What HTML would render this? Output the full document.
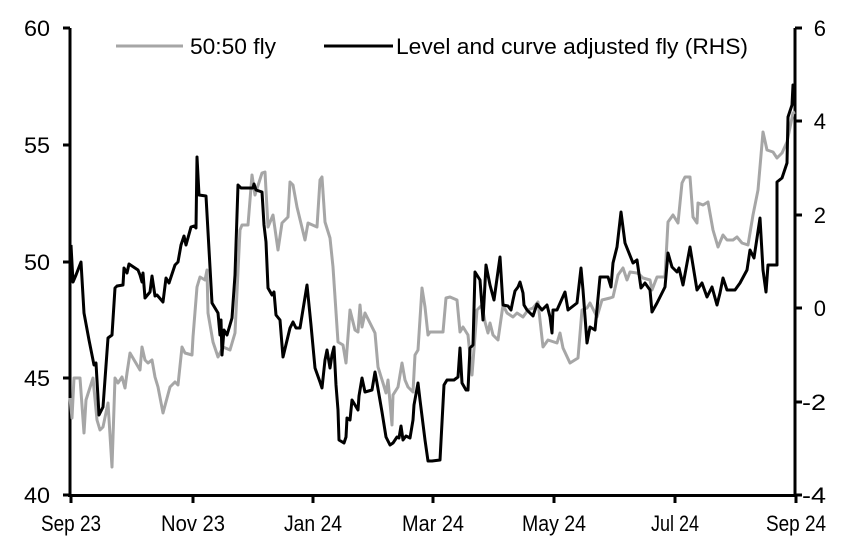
<!DOCTYPE html>
<html><head><meta charset="utf-8"><style>
html,body{margin:0;padding:0;background:#fff;}
svg{display:block;}
text{font-family:"Liberation Sans",Arial,sans-serif;font-size:22px;fill:#000;}
</style></head><body>
<svg width="852" height="551" viewBox="0 0 852 551" xmlns="http://www.w3.org/2000/svg">
<g stroke="#000" stroke-width="3" fill="none">
<line x1="70" y1="28" x2="70" y2="496"/>
<line x1="795" y1="28" x2="795" y2="496"/>
<line x1="68" y1="495.5" x2="797" y2="495.5"/>
<line x1="63" y1="28" x2="70" y2="28"/><line x1="63" y1="145" x2="70" y2="145"/><line x1="63" y1="262" x2="70" y2="262"/><line x1="63" y1="378" x2="70" y2="378"/><line x1="63" y1="495" x2="70" y2="495"/>
<line x1="795" y1="28" x2="802" y2="28"/><line x1="795" y1="121" x2="802" y2="121"/><line x1="795" y1="215" x2="802" y2="215"/><line x1="795" y1="308" x2="802" y2="308"/><line x1="795" y1="402" x2="802" y2="402"/><line x1="795" y1="495" x2="802" y2="495"/>
<line x1="71" y1="495" x2="71" y2="503"/><line x1="193" y1="495" x2="193" y2="503"/><line x1="313" y1="495" x2="313" y2="503"/><line x1="433" y1="495" x2="433" y2="503"/><line x1="554" y1="495" x2="554" y2="503"/><line x1="675" y1="495" x2="675" y2="503"/><line x1="796" y1="495" x2="796" y2="503"/>
</g>
<g text-anchor="end">
<text x="50" y="36" textLength="26" lengthAdjust="spacingAndGlyphs">60</text>
<text x="50" y="153" textLength="26" lengthAdjust="spacingAndGlyphs">55</text>
<text x="50" y="270" textLength="26" lengthAdjust="spacingAndGlyphs">50</text>
<text x="50" y="386" textLength="26" lengthAdjust="spacingAndGlyphs">45</text>
<text x="50" y="503" textLength="26" lengthAdjust="spacingAndGlyphs">40</text>
</g>
<g text-anchor="end">
<text x="826" y="36">6</text>
<text x="826" y="129">4</text>
<text x="826" y="223">2</text>
<text x="826" y="316">0</text>
<text x="826" y="410" textLength="24" lengthAdjust="spacingAndGlyphs">-2</text>
<text x="826" y="503" textLength="24" lengthAdjust="spacingAndGlyphs">-4</text>
</g>
<g text-anchor="middle">
<text x="71" y="531" textLength="60" lengthAdjust="spacingAndGlyphs">Sep 23</text>
<text x="193" y="531" textLength="64" lengthAdjust="spacingAndGlyphs">Nov 23</text>
<text x="313" y="531" textLength="58" lengthAdjust="spacingAndGlyphs">Jan 24</text>
<text x="433" y="531" textLength="62" lengthAdjust="spacingAndGlyphs">Mar 24</text>
<text x="554" y="531" textLength="64" lengthAdjust="spacingAndGlyphs">May 24</text>
<text x="675" y="531" textLength="48" lengthAdjust="spacingAndGlyphs">Jul 24</text>
<text x="796" y="531" textLength="60" lengthAdjust="spacingAndGlyphs">Sep 24</text>
</g>
<line x1="116" y1="46" x2="183" y2="46" stroke="#a6a6a6" stroke-width="3"/>
<text x="190" y="54" textLength="86" lengthAdjust="spacingAndGlyphs">50:50 fly</text>
<line x1="324" y1="46" x2="393" y2="46" stroke="#000" stroke-width="3"/>
<text x="396" y="54" textLength="352" lengthAdjust="spacingAndGlyphs">Level and curve adjusted fly (RHS)</text>
<polyline fill="none" stroke="#a6a6a6" stroke-width="3" stroke-linejoin="round" points="70,398 72,418 74,378 80,378 84,433 86,400 93,378 97,420 100,430 103,427 108,403 112,467 115,378 118,383 122,377 125,388 127,373 130,353 140,370 142,347 145,360 148,363 152,360 155,377 158,387 163,413 170,387 175,382 178,385 182,347 185,353 192,355 193,337 197,287 200,277 205,280 207,270 208,313 213,342 218,357 223,347 230,350 235,333 240,230 242,225 248,225 252,175 255,195 262,173 265,172 268,227 273,215 278,250 282,223 288,217 290,182 293,185 297,207 305,240 308,223 317,227 320,180 322,177 325,222 330,238 333,267 338,342 343,345 346,363 350,310 355,330 358,332 360,305 362,327 365,313 370,323 375,333 378,367 383,383 386,393 388,380 392,425 393,395 398,387 402,363 405,380 408,387 413,392 415,355 418,350 422,288 425,307 428,335 430,332 443,332 446,298 450,297 457,300 460,332 463,327 468,335 472,375 477,310 482,305 485,322 488,333 490,323 493,335 498,340 503,305 507,313 513,317 517,313 523,317 528,310 533,308 538,302 543,347 548,340 557,343 560,333 563,348 570,363 578,358 582,310 587,308 590,303 597,317 602,300 610,298 613,297 618,275 623,268 627,280 630,272 637,273 640,275 643,278 650,280 652,290 657,277 665,277 668,222 673,215 678,223 682,183 685,177 690,177 693,217 697,223 698,203 703,205 708,202 713,230 718,247 723,235 727,240 733,240 737,237 742,243 748,245 753,215 758,190 763,132 767,150 773,152 777,158 782,153 787,142 793,113 795,112"/>
<polyline fill="none" stroke="#000" stroke-width="3" stroke-linejoin="round" points="71,245 73,282 76,275 81,262 84,313 89,340 94,365 96,363 99,415 103,407 108,338 112,335 115,288 117,286 123,285 124,268 127,273 129,264 138,270 140,275 142,282 143,273 145,298 150,292 152,276 155,296 157,295 163,302 166,278 169,283 175,265 178,262 181,245 184,236 186,245 191,227 194,226 196,228 197,157 199,195 206,196 212,303 218,313 220,335 221,320 222,355 224,330 227,335 232,318 235,275 238,185 241,188 253,188 254,184 256,190 262,192 264,225 266,242 268,288 272,295 274,292 276,315 280,320 282,345 283,357 290,328 293,322 296,328 300,328 307,285 311,325 315,368 320,382 322,388 325,360 327,350 330,368 332,355 334,347 336,385 338,410 339,440 344,443 346,437 347,418 350,420 352,400 358,410 359,396 362,378 365,392 372,390 375,372 377,383 382,412 386,437 390,445 393,443 397,437 399,438 401,426 403,440 406,436 410,438 413,420 414,405 418,383 420,400 425,440 428,461 432,461 440,460 444,385 447,380 454,380 458,377 460,348 462,383 466,390 468,390 470,348 473,345 475,272 480,280 483,320 486,265 490,285 494,300 500,257 503,305 508,306 511,310 513,300 515,291 518,287 520,282 523,293 524,305 527,310 533,316 537,304 542,310 547,305 550,317 552,333 553,310 557,310 565,292 568,310 577,303 581,268 583,290 587,343 590,327 595,330 600,277 608,277 611,287 613,263 617,247 621,212 625,243 633,263 637,260 641,288 645,283 650,290 652,312 657,303 665,287 668,253 672,267 677,272 679,268 683,285 690,247 697,290 702,283 707,297 712,287 717,305 720,293 723,278 727,290 735,290 740,283 747,270 750,250 754,258 760,218 763,270 766,292 768,265 777,265 777,182 782,178 787,163 788,117 792,105 793,85 795,100"/>
</svg>
</body></html>
